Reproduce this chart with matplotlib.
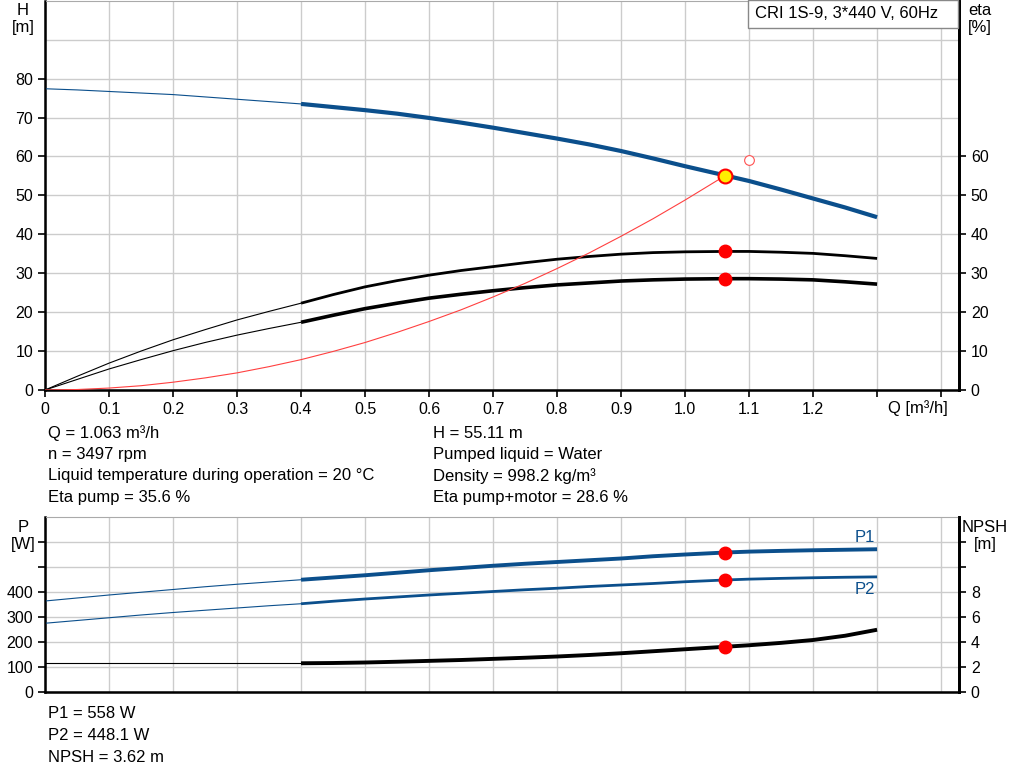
import matplotlib
matplotlib.use('Agg')
import matplotlib.pyplot as plt
from matplotlib.patches import Rectangle
import numpy as np

plt.rcParams['font.family'] = ['Liberation Sans', 'DejaVu Sans']
plt.rcParams['font.size'] = 11.5

# ---- data (Q in m3/h) ----
q = [0.0, 0.05, 0.1, 0.15, 0.2, 0.25, 0.3, 0.35, 0.4, 0.45, 0.5, 0.55, 0.6, 0.65, 0.7,
     0.75, 0.8, 0.85, 0.9, 0.95, 1.0, 1.063, 1.1, 1.15, 1.2, 1.25, 1.3]
head = [77.4, 77.1, 76.7, 76.3, 75.9, 75.3, 74.7, 74.1, 73.5, 72.7, 71.9, 71.0, 69.9, 68.7, 67.4,
        66.0, 64.6, 63.1, 61.4, 59.5, 57.5, 55.11, 53.7, 51.5, 49.2, 46.9, 44.4]
eta_pump = [0.0, 3.5, 6.9, 10.0, 12.9, 15.5, 18.0, 20.2, 22.3, 24.5, 26.5, 28.1, 29.5, 30.7, 31.7,
            32.7, 33.6, 34.3, 34.9, 35.3, 35.5, 35.6, 35.6, 35.4, 35.1, 34.5, 33.8]
eta_total = [0.0, 2.7, 5.4, 7.8, 10.1, 12.2, 14.1, 15.8, 17.4, 19.2, 20.9, 22.3, 23.6, 24.6, 25.5,
             26.3, 27.0, 27.5, 28.0, 28.3, 28.5, 28.6, 28.6, 28.5, 28.3, 27.8, 27.2]
p1 = [364, 376, 388, 399, 410, 421, 431, 440, 449, 458, 467, 477, 487, 496, 505,
      513, 520, 527, 534, 543, 550, 558, 561.5, 564.5, 567, 569, 571]
p2 = [275, 286, 297, 308, 318, 327, 336, 345, 353, 363, 372, 380, 388, 395, 402,
      409, 415, 422, 428, 434, 441, 448.1, 451.5, 454.5, 457, 459, 460.5]
npsh = [2.3, 2.3, 2.3, 2.3, 2.3, 2.3, 2.3, 2.3, 2.3, 2.32, 2.36, 2.42, 2.49, 2.56, 2.65,
        2.74, 2.84, 2.96, 3.1, 3.26, 3.42, 3.62, 3.74, 3.93, 4.16, 4.5, 4.98]

# red curve through the duty point (ends there)
q_sys = [0.0, 0.05, 0.1, 0.15, 0.2, 0.25, 0.3, 0.35, 0.4, 0.45, 0.5, 0.55, 0.6, 0.65, 0.7,
         0.75, 0.8, 0.85, 0.9, 0.95, 1.0, 1.063]
h_sys = [0.0, 0.12, 0.5, 1.1, 2.0, 3.1, 4.4, 6.0, 7.8, 9.9, 12.2, 14.8, 17.6, 20.6, 23.9,
         27.4, 31.2, 35.2, 39.5, 44.0, 48.8, 55.11]

duty_q = 1.063
duty_h = 55.11
duty_eta_pump = 35.6
duty_eta_total = 28.6
duty_p1 = 558
duty_p2 = 448.1
duty_npsh = 3.62
open_q, open_h = 1.1, 59.0

x_ticks = [0, 0.1, 0.2, 0.3, 0.4, 0.5, 0.6, 0.7, 0.8, 0.9, 1.0, 1.1, 1.2, 1.3, 1.4]
x_labels = ['0', '0.1', '0.2', '0.3', '0.4', '0.5', '0.6', '0.7', '0.8', '0.9',
            '1.0', '1.1', '1.2', '', '']

BLUE = '#0b4f8c'
RED = '#ff0000'
GRID = '#cccccc'
W, H = 1024, 781

fig = plt.figure(figsize=(W / 100, H / 100), dpi=100)
L, R = 45 / W, 959 / W
ax = fig.add_axes([L, 1 - 390 / H, R - L, 390 / H - 0.001])
axe = ax.twinx()
bx = fig.add_axes([L, 1 - 692 / H, R - L, (692 - 517) / H])
bxn = bx.twinx()

qa = np.array(q)
thin = qa <= 0.4
thick = qa >= 0.4


def split_plot(a, y, color, lw):
    # thin line below 0.4 m3/h, heavy line in the working range
    y = np.array(y)
    a.plot(qa[thin], y[thin], color=color, lw=0.8, solid_capstyle='butt', zorder=3)
    a.plot(qa[thick], y[thick], color=color, lw=lw, solid_capstyle='butt',
           solid_joinstyle='round', zorder=3)


def style(a, ticks, labels, top, extra):
    a.set_xlim(0, 1.428)
    a.set_ylim(0, top)
    a.set_xticks(x_ticks)
    a.set_yticks(ticks)
    a.set_yticklabels(labels)
    a.set_yticks(extra, minor=True)
    a.grid(True, which='both', color=GRID, lw=1)
    a.tick_params(axis='y', which='minor', length=0)
    a.tick_params(axis='both', which='major', direction='out', length=5, width=1.2)
    a.set_axisbelow(True)
    for s in ['left', 'bottom']:
        a.spines[s].set_linewidth(1.8)
    a.spines['top'].set_color('#aaaaaa')
    a.spines['right'].set_linewidth(2)


def style_right(a, top, ticks, labels):
    a.set_ylim(0, top)
    a.set_yticks(ticks)
    a.set_yticklabels(labels)
    a.tick_params(axis='y', direction='out', length=5, width=1.2)
    a.spines['right'].set_linewidth(2)
    a.spines['top'].set_visible(False)


# ---- top chart: head and efficiency ----
style(ax, list(range(0, 81, 10)), [str(v) for v in range(0, 81, 10)], 100, [90])
ax.set_xticklabels(x_labels)
style_right(axe, 100, list(range(0, 61, 10)), [str(v) for v in range(0, 61, 10)])

split_plot(ax, head, BLUE, 3.0)
split_plot(axe, eta_pump, 'black', 2.0)
split_plot(axe, eta_total, 'black', 2.6)
axe.plot(q_sys, h_sys, color='#ff4040', lw=0.8, zorder=3)
axe.plot(duty_q, duty_eta_pump, 'o', color=RED, ms=9, zorder=5)
axe.plot(duty_q, duty_eta_total, 'o', color=RED, ms=9, zorder=5)
axe.plot(duty_q, duty_h, 'o', mfc='#ffee00', mec=RED, mew=1.5, ms=10, zorder=6)
axe.plot(open_q, open_h, 'o', mfc='white', mec='#ff5050', mew=0.8, ms=7, zorder=5)

ax.text(1.364, -4.6, 'Q [m\u00b3/h]', ha='center', va='center', fontsize=12)
fig.text(23 / W, 1 - 19 / H, 'H\n[m]', ha='center', va='center', linespacing=1.2, fontsize=12)
fig.text(980 / W, 1 - 19 / H, 'eta\n[%]', ha='center', va='center', linespacing=1.2, fontsize=12)

# model box in the top right corner
fig.patches.append(Rectangle((748 / W, 1 - 28 / H), 210 / W, 28 / H, transform=fig.transFigure,
                             fc='white', ec='#888888', lw=1, zorder=10))
fig.text(755 / W, 1 - 14 / H, 'CRI 1S-9, 3*440 V, 60Hz', va='center', fontsize=12, zorder=11)

info_left = ['Q = 1.063 m\u00b3/h', 'n = 3497 rpm',
             'Liquid temperature during operation = 20 \u00b0C', 'Eta pump = 35.6 %']
info_right = ['H = 55.11 m', 'Pumped liquid = Water',
              'Density = 998.2 kg/m\u00b3', 'Eta pump+motor = 28.6 %']
for i, (tl, tr) in enumerate(zip(info_left, info_right)):
    yy = 1 - (433 + i * 21.5) / H
    fig.text(48 / W, yy, tl, va='center', fontsize=12)
    fig.text(433 / W, yy, tr, va='center', fontsize=12)

# ---- bottom chart: power and NPSH ----
style(bx, list(range(0, 601, 100)), ['0', '100', '200', '300', '400', '', ''], 700, [])
bx.set_xticklabels([])
bx.tick_params(axis='x', length=0)
style_right(bxn, 14, list(range(0, 13, 2)), ['0', '2', '4', '6', '8', '', ''])

split_plot(bx, p1, BLUE, 2.8)
split_plot(bx, p2, BLUE, 2.0)
split_plot(bxn, npsh, 'black', 2.8)
bx.plot(duty_q, duty_p1, 'o', color=RED, ms=9, zorder=5)
bx.plot(duty_q, duty_p2, 'o', color=RED, ms=9, zorder=5)
bxn.plot(duty_q, duty_npsh, 'o', color=RED, ms=9, zorder=5)
bx.text(1.281, 619, 'P1', color=BLUE, ha='center', va='center', fontsize=12)
bx.text(1.281, 411, 'P2', color=BLUE, ha='center', va='center', fontsize=12)

fig.text(23 / W, 1 - 536 / H, 'P\n[W]', ha='center', va='center', linespacing=1.2, fontsize=12)
fig.text(985 / W, 1 - 536 / H, 'NPSH\n[m]', ha='center', va='center', linespacing=1.2, fontsize=12)
for i, t in enumerate(['P1 = 558 W', 'P2 = 448.1 W', 'NPSH = 3.62 m']):
    fig.text(48 / W, 1 - (714 + i * 21.5) / H, t, va='center', fontsize=12)

fig.savefig('out.png', dpi=100)
